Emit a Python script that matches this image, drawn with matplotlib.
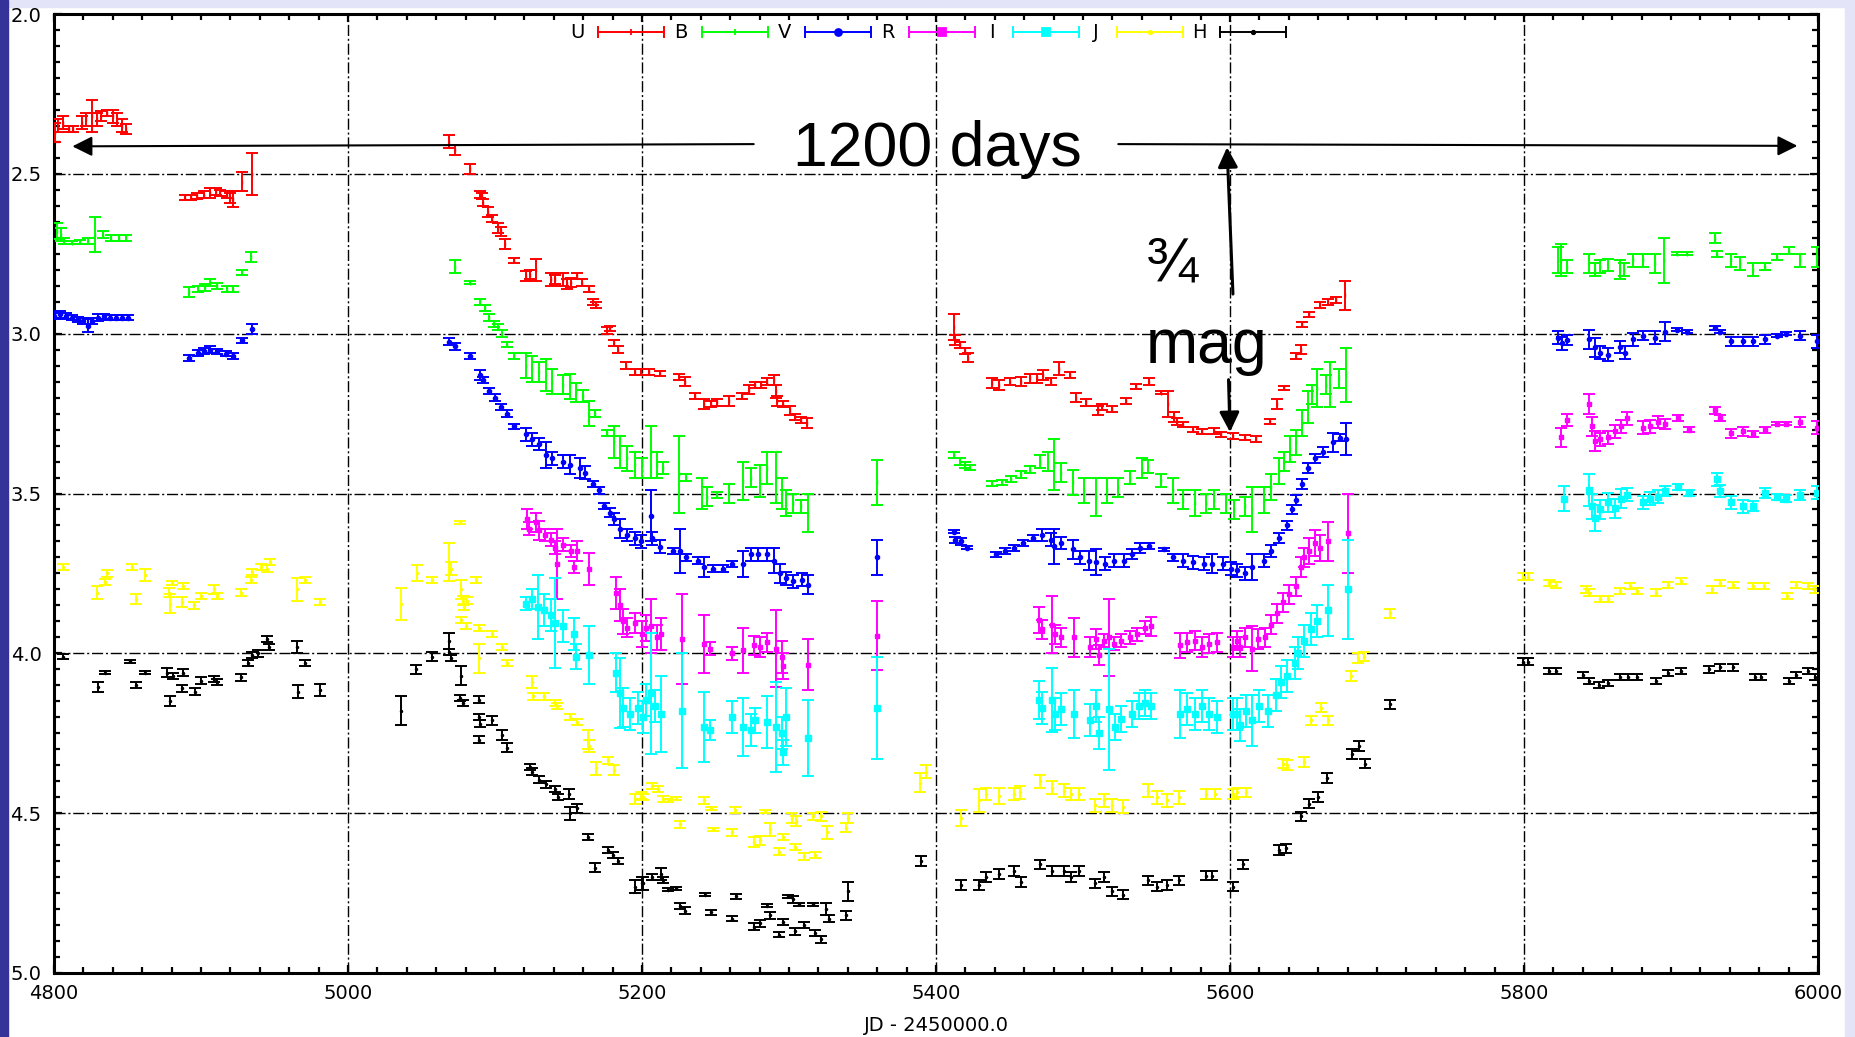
import matplotlib
matplotlib.use("Agg")
import matplotlib.pyplot as plt
from matplotlib.patches import Rectangle
from matplotlib.ticker import MultipleLocator, FormatStrFormatter

plt.rcParams['font.family'] = ['DejaVu Sans']
plt.rcParams['lines.scale_dashes'] = False

# (JD - 2450000, magnitude, error)
U_obs = [(4801, 2.37, .03), (4803, 2.35, .02), (4806, 2.34, .02), (4810, 2.36, .01), (4813, 2.36, .01),
         (4819, 2.34, .02), (4822, 2.33, .02), (4826, 2.32, .05), (4829, 2.33, .02), (4832, 2.32, .015),
         (4836, 2.31, .01), (4840, 2.32, .02), (4843, 2.33, .02), (4846, 2.35, .02), (4849, 2.36, .015),
         (4889, 2.573, .008), (4893, 2.573, .008), (4897, 2.57, .01), (4902, 2.565, .01), (4906, 2.56, .015),
         (4910, 2.555, .01), (4913, 2.56, .01), (4918, 2.565, .01), (4920, 2.575, .015), (4922, 2.58, .025),
         (4928, 2.525, .03), (4935, 2.50, .065),
         (5069, 2.40, .02), (5073, 2.425, .015), (5083, 2.485, .015), (5090, 2.565, .01), (5091, 2.57, .01),
         (5092, 2.59, .01), (5095, 2.62, .015), (5098, 2.64, .01), (5102, 2.67, .015), (5104, 2.68, .015),
         (5107, 2.72, .015), (5113, 2.77, .008), (5121, 2.82, .015), (5124, 2.815, .015), (5128, 2.80, .035),
         (5138, 2.83, .02), (5141, 2.83, .015), (5146, 2.83, .02), (5149, 2.845, .015), (5152, 2.84, .015),
         (5156, 2.82, .01), (5159, 2.84, .01), (5164, 2.86, .01), (5167, 2.90, .01), (5169, 2.91, .01),
         (5176, 2.99, .01), (5178, 2.985, .008), (5181, 3.03, .01), (5184, 3.05, .01), (5189, 3.10, .01),
         (5195, 3.12, .01), (5199, 3.12, .01),
         (5205, 3.12, .01), (5212, 3.125, .008), (5225, 3.135, .01), (5229, 3.15, .015), (5236, 3.195, .008),
         (5242, 3.22, .015), (5247, 3.22, .01), (5251, 3.215, .01), (5259, 3.21, .015), (5268, 3.195, .008),
         (5273, 3.175, .015), (5277, 3.16, .01), (5281, 3.16, .01), (5285, 3.15, .01), (5290, 3.145, .015),
         (5291, 3.18, .02), (5292, 3.21, .015), (5296, 3.22, .01), (5301, 3.24, .015), (5304, 3.26, .01),
         (5308, 3.27, .01), (5312, 3.28, .015),
         (5412, 2.98, .04), (5413, 3.02, .015), (5416, 3.035, .01), (5420, 3.055, .01), (5422, 3.075, .015),
         (5438, 3.155, .015), (5443, 3.16, .015), (5450, 3.15, .01), (5458, 3.15, .015), (5464, 3.14, .015),
         (5469, 3.14, .015), (5473, 3.13, .015), (5478, 3.15, .01), (5484, 3.11, .02), (5491, 3.13, .01),
         (5495, 3.20, .015), (5502, 3.215, .01), (5510, 3.24, .015), (5513, 3.23, .01), (5520, 3.235, .01),
         (5529, 3.21, .01), (5536, 3.165, .008), (5545, 3.15, .01), (5553, 3.185, .005), (5558, 3.22, .04),
         (5562, 3.26, .015), (5564, 3.275, .01), (5568, 3.285, .008), (5575, 3.30, .008), (5581, 3.305, .008),
         (5589, 3.305, .01), (5594, 3.315, .008),
         (5602, 3.32, .008), (5610, 3.324, .008), (5618, 3.33, .01), (5627, 3.276, .008), (5632, 3.22, .015),
         (5637, 3.17, .005), (5645, 3.07, .01), (5648, 3.05, .015), (5649, 2.97, .008), (5654, 2.94, .008),
         (5661, 2.91, .01), (5667, 2.90, .01), (5672, 2.895, .01), (5678, 2.88, .045)]

B_obs = [(4802, 2.68, .025), (4805, 2.69, .02), (4807, 2.71, .01), (4812, 2.716, .005), (4818, 2.713, .005),
         (4823, 2.71, .01), (4828, 2.69, .055), (4833, 2.69, .01), (4839, 2.70, .01), (4844, 2.70, .01),
         (4849, 2.70, .01),
         (4892, 2.87, .015), (4898, 2.86, .01), (4903, 2.855, .01), (4906, 2.84, .01), (4911, 2.85, .01),
         (4918, 2.86, .01), (4922, 2.86, .01), (4928, 2.81, .008), (4934, 2.76, .015),
         (5073, 2.79, .02), (5083, 2.84, .005), (5090, 2.90, .01), (5093, 2.92, .01), (5096, 2.95, .01),
         (5099, 2.97, .01), (5102, 2.98, .01), (5105, 3.00, .01), (5108, 3.035, .008), (5113, 3.07, .008),
         (5121, 3.10, .04), (5125, 3.11, .04), (5130, 3.12, .03), (5135, 3.13, .05), (5139, 3.15, .04),
         (5146, 3.16, .03), (5151, 3.165, .04), (5155, 3.185, .03), (5160, 3.195, .02), (5164, 3.25, .04),
         (5168, 3.25, .01), (5176, 3.31, .01), (5181, 3.34, .05), (5185, 3.37, .05), (5190, 3.39, .04),
         (5195, 3.41, .04), (5200, 3.42, .03),
         (5206, 3.37, .08), (5210, 3.41, .04), (5214, 3.42, .02), (5225, 3.44, .12), (5230, 3.45, .01),
         (5241, 3.50, .05), (5244, 3.51, .03), (5251, 3.505, .01), (5259, 3.50, .03), (5269, 3.46, .06),
         (5274, 3.45, .03), (5280, 3.46, .05), (5285, 3.42, .05), (5291, 3.45, .08), (5295, 3.50, .05),
         (5298, 3.53, .04), (5303, 3.53, .03), (5308, 3.54, .02), (5313, 3.56, .06), (5360, 3.465, .07),
         (5412, 3.38, .01), (5416, 3.40, .01), (5420, 3.41, .01), (5423, 3.42, .008), (5438, 3.47, .008),
         (5445, 3.465, .008), (5451, 3.455, .01), (5458, 3.44, .01), (5464, 3.425, .01), (5471, 3.40, .02),
         (5476, 3.40, .03), (5480, 3.41, .08), (5485, 3.435, .03), (5493, 3.465, .04), (5501, 3.49, .04),
         (5509, 3.51, .06), (5516, 3.49, .04), (5524, 3.48, .03), (5532, 3.45, .02), (5540, 3.42, .03),
         (5544, 3.415, .02), (5553, 3.46, .02), (5561, 3.49, .04), (5568, 3.52, .03), (5576, 3.53, .04),
         (5584, 3.53, .03), (5589, 3.52, .03), (5597, 3.53, .03), (5603, 3.55, .03),
         (5610, 3.54, .03), (5615, 3.55, .07), (5623, 3.52, .04), (5628, 3.48, .04), (5633, 3.43, .04),
         (5637, 3.40, .03), (5641, 3.36, .04), (5645, 3.34, .04), (5649, 3.28, .04), (5653, 3.23, .05),
         (5656, 3.19, .03), (5659, 3.17, .06), (5665, 3.16, .03), (5668, 3.16, .07), (5674, 3.14, .03),
         (5679, 3.13, .085),
         (5823, 2.77, .04), (5825, 2.77, .05), (5829, 2.79, .02), (5844, 2.78, .03), (5848, 2.80, .02),
         (5852, 2.79, .02), (5857, 2.785, .02), (5865, 2.80, .03), (5868, 2.80, .02), (5874, 2.77, .02),
         (5881, 2.77, .02), (5889, 2.78, .03), (5895, 2.77, .07), (5904, 2.75, .005), (5911, 2.75, .005),
         (5930, 2.70, .015), (5931, 2.75, .01), (5941, 2.77, .02), (5947, 2.78, .02), (5956, 2.80, .02),
         (5964, 2.79, .01), (5972, 2.76, .01), (5980, 2.74, .01), (5988, 2.77, .02), (5999, 2.76, .03)]

V_obs = [(4800, 2.945, .01), (4804, 2.94, .01), (4808, 2.945, .01), (4812, 2.95, .008), (4816, 2.955, .008),
         (4820, 2.96, .01), (4823, 2.975, .02), (4826, 2.96, .01), (4830, 2.95, .01), (4834, 2.945, .008),
         (4838, 2.95, .008), (4842, 2.95, .008), (4846, 2.95, .008), (4850, 2.95, .008),
         (4892, 3.076, .01), (4898, 3.06, .01), (4902, 3.055, .01), (4906, 3.05, .01), (4911, 3.055, .008),
         (4917, 3.063, .008), (4922, 3.07, .008), (4928, 3.02, .008), (4935, 2.985, .015),
         (5069, 3.025, .01), (5073, 3.04, .01), (5083, 3.07, .008), (5090, 3.13, .015), (5092, 3.145, .01),
         (5096, 3.18, .01), (5100, 3.20, .01), (5104, 3.23, .01), (5108, 3.25, .01), (5113, 3.29, .008),
         (5121, 3.315, .02), (5125, 3.33, .02), (5130, 3.345, .02), (5135, 3.38, .04), (5139, 3.39, .02),
         (5146, 3.40, .02), (5151, 3.41, .03), (5158, 3.42, .03), (5161, 3.435, .02), (5167, 3.47, .01),
         (5171, 3.49, .01), (5174, 3.54, .01), (5178, 3.56, .015), (5181, 3.58, .02), (5185, 3.61, .03),
         (5190, 3.63, .02), (5195, 3.64, .02), (5199, 3.65, .02),
         (5206, 3.57, .08), (5207, 3.64, .02), (5212, 3.667, .02), (5221, 3.68, .01), (5226, 3.68, .07),
         (5230, 3.70, .01), (5238, 3.71, .01), (5242, 3.73, .03), (5248, 3.735, .01), (5255, 3.735, .01),
         (5261, 3.72, .01), (5269, 3.72, .04), (5274, 3.69, .02), (5279, 3.69, .02), (5285, 3.69, .02),
         (5290, 3.71, .04), (5294, 3.75, .03), (5298, 3.765, .02), (5303, 3.775, .02), (5309, 3.77, .02),
         (5313, 3.785, .03), (5360, 3.70, .055),
         (5412, 3.62, .005), (5413, 3.645, .01), (5417, 3.65, .01), (5421, 3.67, .005), (5441, 3.69, .008),
         (5447, 3.68, .008), (5453, 3.67, .01), (5459, 3.655, .01), (5466, 3.64, .01), (5472, 3.63, .02),
         (5478, 3.645, .02), (5480, 3.665, .055), (5485, 3.655, .02), (5493, 3.675, .03), (5498, 3.70, .02),
         (5504, 3.71, .03), (5509, 3.715, .04), (5515, 3.72, .02), (5521, 3.71, .02), (5528, 3.71, .02),
         (5533, 3.69, .015), (5539, 3.67, .015), (5545, 3.665, .01), (5555, 3.675, .005), (5561, 3.70, .01),
         (5568, 3.71, .02), (5575, 3.715, .02), (5582, 3.72, .02), (5588, 3.72, .03), (5595, 3.72, .02),
         (5601, 3.735, .02),
         (5605, 3.74, .02), (5610, 3.75, .02), (5615, 3.73, .04), (5623, 3.71, .02), (5628, 3.68, .02),
         (5633, 3.64, .015), (5639, 3.60, .015), (5642, 3.55, .015), (5645, 3.52, .015), (5649, 3.47, .015),
         (5653, 3.42, .015), (5658, 3.39, .015), (5663, 3.37, .015), (5670, 3.34, .03), (5675, 3.325, .01),
         (5679, 3.33, .05),
         (5823, 3.012, .02), (5826, 3.03, .02), (5829, 3.02, .015), (5844, 3.018, .03), (5848, 3.042, .03),
         (5852, 3.06, .02), (5857, 3.066, .02), (5865, 3.042, .02), (5869, 3.06, .02), (5874, 3.018, .02),
         (5881, 3.006, .015), (5889, 3.012, .02), (5896, 2.994, .03), (5904, 2.988, .005), (5911, 2.994, .005),
         (5930, 2.982, .005), (5933, 2.994, .005), (5941, 3.024, .015), (5949, 3.024, .015), (5956, 3.024, .015),
         (5964, 3.018, .015), (5972, 3.006, .005), (5978, 3.00, .005), (5988, 3.006, .015), (5999, 3.024, .02)]

R_obs = [(5122, 3.58, .03), (5123, 3.61, .02), (5128, 3.59, .03), (5130, 3.615, .03), (5134, 3.63, .02),
         (5138, 3.645, .02), (5141, 3.67, .02), (5142, 3.72, .11), (5146, 3.66, .02), (5152, 3.68, .02),
         (5154, 3.73, .02), (5156, 3.68, .03), (5164, 3.735, .05),
         (5182, 3.81, .05), (5185, 3.85, .05), (5187, 3.90, .04), (5190, 3.92, .03), (5195, 3.905, .03),
         (5200, 3.94, .04),
         (5203, 3.92, .04), (5206, 3.915, .085), (5210, 3.95, .04), (5213, 3.94, .05), (5227, 3.955, .14),
         (5242, 3.97, .09), (5246, 3.985, .02), (5261, 4.00, .02), (5269, 3.99, .07), (5276, 3.975, .03),
         (5280, 3.98, .03), (5285, 3.965, .03), (5291, 3.985, .12), (5295, 4.01, .05), (5296, 4.04, .04),
         (5313, 4.035, .08), (5360, 3.945, .108),
         (5470, 3.895, .04), (5472, 3.925, .03), (5479, 3.91, .09), (5481, 3.94, .03), (5485, 3.95, .03),
         (5494, 3.95, .06), (5505, 3.98, .03), (5509, 3.955, .03), (5511, 4.005, .03), (5514, 3.96, .02),
         (5518, 3.95, .12), (5521, 3.97, .02), (5526, 3.96, .02), (5532, 3.95, .02), (5537, 3.94, .02),
         (5542, 3.92, .02), (5546, 3.915, .03), (5566, 3.975, .04), (5571, 3.965, .03), (5576, 3.96, .03),
         (5581, 3.98, .03), (5586, 3.97, .03), (5591, 3.965, .03), (5602, 3.98, .03),
         (5605, 3.96, .03), (5607, 3.98, .03), (5610, 3.95, .03), (5615, 3.985, .07), (5619, 3.955, .03),
         (5624, 3.95, .03), (5628, 3.91, .03), (5632, 3.875, .03), (5636, 3.84, .03), (5640, 3.815, .03),
         (5645, 3.79, .03), (5648, 3.73, .03), (5650, 3.70, .03), (5654, 3.68, .04), (5658, 3.655, .04),
         (5661, 3.67, .04), (5667, 3.65, .06), (5680, 3.625, .125),
         (5825, 3.324, .03), (5829, 3.27, .02), (5844, 3.22, .03), (5846, 3.29, .03), (5848, 3.336, .03),
         (5852, 3.33, .02), (5857, 3.324, .02), (5862, 3.306, .02), (5866, 3.29, .02), (5870, 3.265, .02),
         (5881, 3.294, .02), (5886, 3.29, .02), (5891, 3.276, .02), (5896, 3.282, .015), (5905, 3.264, .01),
         (5912, 3.30, .008), (5930, 3.24, .01), (5933, 3.264, .01), (5941, 3.312, .015), (5949, 3.306, .015),
         (5956, 3.314, .01), (5964, 3.302, .01), (5972, 3.282, .005), (5978, 3.282, .005), (5988, 3.276, .015),
         (5999, 3.294, .02)]

I_obs = [(5121, 3.845, .02), (5125, 3.83, .03), (5129, 3.855, .1), (5133, 3.865, .05), (5138, 3.88, .05),
         (5141, 3.905, .14), (5146, 3.915, .05), (5154, 3.94, .05), (5155, 4.01, .04), (5164, 4.005, .09),
         (5182, 4.06, .06), (5185, 4.125, .11), (5187, 4.17, .06), (5192, 4.19, .05), (5197, 4.17, .05),
         (5201, 4.20, .05),
         (5203, 4.145, .05), (5206, 4.125, .19), (5209, 4.165, .05), (5213, 4.19, .12), (5227, 4.18, .18),
         (5242, 4.23, .11), (5246, 4.24, .03), (5261, 4.20, .05), (5269, 4.23, .09), (5274, 4.24, .05),
         (5277, 4.21, .04), (5285, 4.215, .08), (5291, 4.23, .14), (5295, 4.25, .05), (5296, 4.31, .04),
         (5298, 4.20, .09), (5313, 4.265, .12), (5360, 4.17, .16),
         (5470, 4.145, .06), (5472, 4.17, .05), (5479, 4.145, .1), (5481, 4.19, .05), (5485, 4.175, .05),
         (5494, 4.19, .075), (5505, 4.21, .05), (5509, 4.165, .05), (5511, 4.25, .05), (5518, 4.175, .19),
         (5522, 4.23, .04), (5526, 4.205, .04), (5533, 4.19, .04), (5538, 4.165, .04), (5542, 4.155, .04),
         (5546, 4.165, .04), (5566, 4.19, .075), (5571, 4.175, .05), (5576, 4.19, .05), (5581, 4.165, .05),
         (5586, 4.19, .05), (5591, 4.20, .05), (5602, 4.19, .05),
         (5605, 4.19, .05), (5607, 4.225, .05), (5611, 4.18, .05), (5615, 4.21, .08), (5620, 4.165, .05),
         (5626, 4.18, .05), (5631, 4.13, .05), (5635, 4.09, .05), (5639, 4.07, .05), (5644, 4.03, .05),
         (5646, 4.00, .05), (5650, 3.96, .05), (5655, 3.925, .05), (5659, 3.90, .05), (5667, 3.865, .08),
         (5680, 3.80, .155),
         (5827, 3.516, .04), (5844, 3.49, .05), (5846, 3.54, .04), (5848, 3.576, .04), (5852, 3.55, .03),
         (5857, 3.528, .03), (5862, 3.546, .03), (5866, 3.516, .03), (5870, 3.504, .02), (5881, 3.528, .02),
         (5886, 3.516, .02), (5891, 3.51, .02), (5896, 3.492, .015), (5905, 3.48, .01), (5912, 3.498, .01),
         (5931, 3.456, .02), (5933, 3.492, .02), (5941, 3.528, .02), (5949, 3.54, .02), (5956, 3.54, .015),
         (5964, 3.498, .015), (5972, 3.51, .01), (5978, 3.516, .01), (5988, 3.504, .015), (5999, 3.498, .02)]

J_obs = [(4806, 3.73, .01), (4829, 3.81, .02), (4835, 3.776, .01), (4836, 3.75, .01), (4853, 3.73, .01),
         (4856, 3.83, .015), (4862, 3.755, .02), (4878, 3.81, .015), (4879, 3.845, .03), (4880, 3.78, .005),
         (4887, 3.84, .015), (4888, 3.79, .01), (4895, 3.85, .01), (4900, 3.82, .01), (4909, 3.80, .015),
         (4911, 3.82, .01), (4927, 3.81, .01), (4934, 3.77, .01), (4935, 3.745, .01), (4941, 3.73, .01),
         (4945, 3.735, .01), (4947, 3.715, .01), (4965, 3.80, .035), (4971, 3.77, .01), (4981, 3.84, .01),
         (5036, 3.845, .05), (5047, 3.75, .025), (5057, 3.77, .01), (5069, 3.715, .06), (5070, 3.735, .02),
         (5076, 3.59, .005), (5077, 3.80, .03), (5078, 3.835, .015), (5079, 3.855, .01), (5081, 3.835, .01),
         (5087, 3.77, .01), (5077, 3.895, .01), (5080, 3.915, .01), (5089, 3.92, .01), (5089, 4.015, .045),
         (5098, 3.94, .01), (5105, 3.98, .01), (5108, 4.03, .01), (5125, 4.09, .02), (5126, 4.135, .01),
         (5133, 4.135, .01), (5141, 4.155, .01), (5142, 4.165, .01), (5151, 4.20, .01), (5156, 4.215, .01),
         (5163, 4.27, .03), (5164, 4.29, .02), (5169, 4.36, .02), (5177, 4.335, .01), (5181, 4.365, .015),
         (5195, 4.455, .015), (5199, 4.445, .01),
         (5201, 4.45, .01), (5207, 4.415, .01), (5211, 4.425, .01), (5214, 4.455, .01), (5218, 4.46, .005),
         (5223, 4.455, .005), (5226, 4.535, .01), (5242, 4.46, .01), (5247, 4.485, .005), (5248, 4.55, .005),
         (5261, 4.56, .01), (5263, 4.49, .01), (5276, 4.59, .015), (5280, 4.585, .015), (5284, 4.495, .005),
         (5287, 4.55, .02), (5293, 4.62, .01), (5296, 4.575, .01), (5302, 4.515, .015), (5304, 4.605, .01),
         (5305, 4.525, .015), (5310, 4.635, .01), (5316, 4.51, .01), (5318, 4.63, .01), (5322, 4.51, .015),
         (5326, 4.56, .02), (5339, 4.545, .015), (5340, 4.515, .015), (5389, 4.405, .03), (5393, 4.37, .02),
         (5417, 4.515, .025), (5429, 4.46, .035), (5434, 4.44, .02), (5443, 4.445, .025), (5453, 4.44, .02),
         (5457, 4.435, .02), (5471, 4.40, .02), (5479, 4.42, .02), (5487, 4.43, .02), (5492, 4.44, .02),
         (5497, 4.44, .02), (5508, 4.475, .02), (5514, 4.46, .02), (5520, 4.475, .02), (5527, 4.48, .02),
         (5544, 4.43, .02), (5550, 4.45, .02), (5557, 4.46, .02), (5565, 4.45, .02), (5584, 4.44, .015),
         (5590, 4.44, .015), (5602, 4.44, .015),
         (5605, 4.435, .015), (5611, 4.435, .015), (5636, 4.345, .015), (5639, 4.35, .015), (5650, 4.34, .015),
         (5655, 4.21, .015), (5662, 4.17, .015), (5667, 4.21, .015), (5682, 4.07, .015), (5687, 4.015, .015),
         (5691, 4.01, .015), (5709, 3.875, .015),
         (5799, 3.76, .01), (5803, 3.76, .01), (5817, 3.78, .01), (5822, 3.786, .01), (5842, 3.80, .01),
         (5844, 3.81, .01), (5852, 3.83, .01), (5857, 3.83, .01), (5865, 3.805, .01), (5872, 3.79, .01),
         (5877, 3.805, .01), (5890, 3.81, .01), (5898, 3.786, .01), (5907, 3.774, .01), (5928, 3.80, .01),
         (5933, 3.78, .01), (5942, 3.786, .01), (5956, 3.79, .01), (5963, 3.79, .01), (5979, 3.82, .01),
         (5985, 3.786, .01), (5993, 3.79, .01), (5998, 3.80, .01)]

H_obs = [(4806, 4.01, .008), (4830, 4.105, .015), (4835, 4.06, .005), (4852, 4.025, .005), (4856, 4.10, .01),
         (4862, 4.06, .005), (4877, 4.06, .015), (4879, 4.15, .015), (4881, 4.07, .01), (4887, 4.11, .01),
         (4888, 4.06, .01), (4896, 4.12, .01), (4900, 4.085, .01), (4909, 4.08, .01), (4911, 4.09, .01),
         (4927, 4.075, .01), (4932, 4.03, .01), (4935, 4.005, .01), (4939, 4.00, .01), (4945, 3.955, .01),
         (4946, 3.98, .01), (4965, 3.98, .02), (4966, 4.12, .02), (4971, 4.03, .01), (4981, 4.115, .02),
         (5036, 4.18, .045), (5046, 4.05, .015), (5057, 4.01, .015), (5069, 3.96, .025), (5069, 3.995, .01),
         (5070, 4.015, .01), (5077, 4.07, .03), (5076, 4.14, .01), (5078, 4.155, .01), (5089, 4.145, .01),
         (5089, 4.20, .01), (5090, 4.22, .01), (5098, 4.21, .015), (5089, 4.27, .01), (5105, 4.255, .015),
         (5108, 4.295, .015), (5124, 4.355, .01), (5125, 4.37, .01), (5130, 4.395, .01), (5135, 4.41, .01),
         (5141, 4.425, .01), (5143, 4.45, .01), (5150, 4.44, .015), (5151, 4.50, .02), (5156, 4.485, .015),
         (5163, 4.575, .01), (5168, 4.67, .015), (5177, 4.615, .01), (5180, 4.63, .01), (5184, 4.65, .01),
         (5195, 4.73, .02), (5200, 4.72, .02),
         (5201, 4.72, .02), (5207, 4.70, .01), (5213, 4.69, .02), (5214, 4.71, .01), (5218, 4.74, .005),
         (5223, 4.735, .005), (5226, 4.79, .01), (5229, 4.805, .01), (5243, 4.755, .005), (5247, 4.81, .008),
         (5264, 4.76, .008), (5261, 4.83, .008), (5276, 4.855, .01), (5280, 4.845, .01), (5285, 4.79, .005),
         (5287, 4.82, .01), (5293, 4.88, .008), (5296, 4.84, .01), (5299, 4.76, .005), (5303, 4.77, .01),
         (5304, 4.87, .01), (5307, 4.785, .005), (5310, 4.85, .01), (5316, 4.785, .005), (5318, 4.875, .01),
         (5322, 4.895, .01), (5325, 4.80, .02), (5327, 4.83, .01), (5339, 4.82, .015), (5340, 4.745, .03),
         (5390, 4.65, .015),
         (5417, 4.725, .015), (5429, 4.725, .015), (5434, 4.70, .015), (5443, 4.69, .015), (5453, 4.68, .015),
         (5458, 4.715, .015), (5471, 4.66, .015), (5479, 4.68, .015), (5487, 4.68, .015), (5492, 4.70, .015),
         (5497, 4.68, .015), (5508, 4.72, .015), (5514, 4.70, .015), (5520, 4.745, .015), (5527, 4.755, .015),
         (5544, 4.71, .015), (5550, 4.73, .015), (5557, 4.725, .015), (5565, 4.71, .015), (5584, 4.695, .015),
         (5588, 4.695, .015), (5602, 4.73, .015),
         (5609, 4.66, .015), (5633, 4.615, .015), (5638, 4.61, .015), (5648, 4.51, .015), (5654, 4.47, .015),
         (5660, 4.45, .015), (5666, 4.39, .015), (5683, 4.315, .015), (5688, 4.29, .015), (5692, 4.345, .015),
         (5709, 4.16, .015),
         (5799, 4.026, .01), (5803, 4.026, .01), (5817, 4.056, .01), (5822, 4.056, .01), (5840, 4.068, .01),
         (5844, 4.086, .01), (5851, 4.10, .01), (5857, 4.092, .01), (5865, 4.074, .01), (5871, 4.074, .01),
         (5877, 4.074, .01), (5890, 4.086, .01), (5898, 4.062, .01), (5907, 4.056, .01), (5926, 4.05, .01),
         (5933, 4.044, .01), (5942, 4.044, .01), (5957, 4.074, .01), (5961, 4.074, .01), (5980, 4.086, .01),
         (5985, 4.068, .01), (5993, 4.056, .01), (5998, 4.074, .01)]

band_names = ["U", "B", "V", "R", "I", "J", "H"]
band_colors = ["#ff0000", "#00ff00", "#0000ff", "#ff00ff", "#00ffff", "#ffff00", "#000000"]
band_data = [U_obs, B_obs, V_obs, R_obs, I_obs, J_obs, H_obs]
band_marks = [("|", 3), ("|", 3), ("o", 3), ("s", 3.5), ("s", 4), (".", 3), (".", 3)]

W, H = 1855, 1037
fig = plt.figure(figsize=(W / 100, H / 100), dpi=100)
fig.patch.set_facecolor("white")
# slide frame: lavender strips top/right, blue strip on the left
fig.add_artist(Rectangle((0, 1 - 7 / H), 1, 7 / H, transform=fig.transFigure, color="#e4e4f8", zorder=0))
fig.add_artist(Rectangle((1845 / W, 0), 10 / W, 1, transform=fig.transFigure, color="#e4e4f8", zorder=0))
fig.add_artist(Rectangle((0, 0), 8 / W, 1, transform=fig.transFigure, color="#333399", zorder=0))

x0, x1, y0, y1 = 54, 1818, 14, 973
ax = fig.add_axes([x0 / W, 1 - y1 / H, (x1 - x0) / W, (y1 - y0) / H])

for name, col, obs, (mk, ms) in zip(band_names, band_colors, band_data, band_marks):
    jd, mag, err = zip(*obs)
    ax.errorbar(jd, mag, yerr=err, fmt=mk, ms=ms, color=col, mec=col, mfc=col, ecolor=col,
                elinewidth=1.4, capsize=4.2, capthick=1.4, zorder=3)

ax.set_xlim(4800, 6000)
ax.set_ylim(5.0, 2.0)
ax.xaxis.set_major_locator(MultipleLocator(200))
ax.xaxis.set_minor_locator(MultipleLocator(20))
ax.yaxis.set_major_locator(MultipleLocator(0.5))
ax.yaxis.set_minor_locator(MultipleLocator(0.05))
ax.yaxis.set_major_formatter(FormatStrFormatter("%.1f"))
ax.tick_params(which="both", direction="in", top=True, right=True, colors="k")
ax.tick_params(which="major", length=6, width=1.6, labelsize=14)
ax.tick_params(which="minor", length=4, width=1.6)
ax.tick_params(axis="x", which="major", pad=8)
ax.tick_params(axis="y", which="major", pad=9)
for sp in ax.spines.values():
    sp.set_linewidth(2.2)
ax.grid(which="major", color="k", linestyle=(0, (8, 2, 1.5, 2)), linewidth=1.0)
ax.set_axisbelow(True)
ax.set_xlabel("JD - 2450000.0", fontsize=14, labelpad=9)

# key at the top, label first then the error-bar sample
ky = (y1 - 32) / (y1 - y0)
for i, (name, col, (mk, ms)) in enumerate(zip(band_names, band_colors, band_marks)):
    lx = 577 + i * 103.7
    ax.text((lx - x0) / (x1 - x0), ky, name, transform=ax.transAxes, ha="center", va="center",
            fontsize=14, zorder=5)
    sa = (lx + 21 - x0) / (x1 - x0)
    sb = (lx + 87 - x0) / (x1 - x0)
    ax.plot([sa, sb], [ky, ky], color=col, lw=1.4, transform=ax.transAxes, clip_on=False, zorder=5)
    ax.plot([sa, sb], [ky, ky], "|", color=col, ms=9, mew=1.4, transform=ax.transAxes, clip_on=False, zorder=5)
    ax.plot([(sa + sb) / 2], [ky], mk, color=col, ms=ms + 2, mew=1.3, transform=ax.transAxes,
            clip_on=False, zorder=5)

h_arrow = dict(arrowstyle="-|>,head_length=0.6,head_width=0.3", color="k", lw=1.5,
               shrinkA=0, shrinkB=0, mutation_scale=20)
v_arrow = dict(arrowstyle="-|>,head_length=0.6,head_width=0.3", color="k", lw=2.2,
               shrinkA=0, shrinkB=0, mutation_scale=20)
ax.annotate("", xy=(4812.5, 2.414), xytext=(5276, 2.407), arrowprops=h_arrow, zorder=6)
ax.annotate("", xy=(5986, 2.4125), xytext=(5524, 2.407), arrowprops=h_arrow, zorder=6)
ax.annotate("", xy=(5598, 2.417), xytext=(5602, 2.876), arrowprops=v_arrow, zorder=6)
ax.annotate("", xy=(5600, 3.308), xytext=(5599, 3.144), arrowprops=v_arrow, zorder=6)

big = dict(fontsize=45, family=["Liberation Sans", "DejaVu Sans"], color="k", zorder=6)
ax.text(5303, 2.474, "1200 days", ha="left", va="baseline", **big)
ax.text(5543, 2.785, "\u00be", ha="left", va="center", **big)
ax.text(5543, 3.092, "mag", ha="left", va="baseline", **big)

fig.savefig("out.png", dpi=100)
